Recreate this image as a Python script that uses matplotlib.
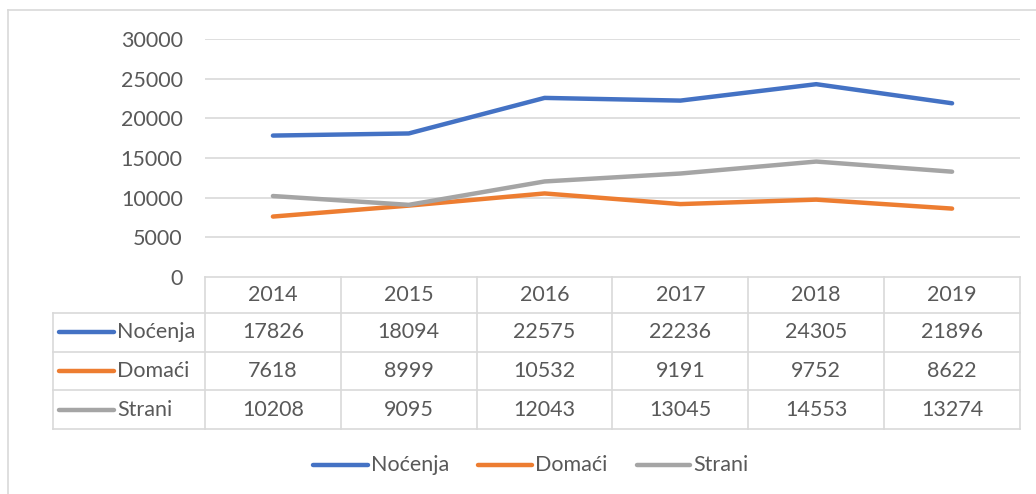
import matplotlib
matplotlib.use("Agg")
import matplotlib.pyplot as plt
from matplotlib.lines import Line2D

years = ["2014", "2015", "2016", "2017", "2018", "2019"]
series_names = ["Noćenja", "Domaći", "Strani"]
nocenja = [17826, 18094, 22575, 22236, 24305, 21896]
domaci = [7618, 8999, 10532, 9191, 9752, 8622]
strani = [10208, 9095, 12043, 13045, 14553, 13274]
yticks = [0, 5000, 10000, 15000, 20000, 25000, 30000]

series = [nocenja, domaci, strani]
colors = ["#4472C4", "#ED7D31", "#A5A5A5"]
TXT = "#595959"
GRID = "#D9D9D9"
FONT = "Lato"
FS = 15.5

W, H = 1036, 494
fig = plt.figure(figsize=(W / 100, H / 100), dpi=100)

def fx(px):
    return px / W

def fy(py):
    return 1 - py / H

# chart border (top and left visible)
fig.add_artist(Line2D([fx(8), fx(8)], [fy(10), 0], color=GRID, lw=1.2, transform=fig.transFigure))
fig.add_artist(Line2D([fx(8), 1], [fy(10), fy(10)], color=GRID, lw=1.2, transform=fig.transFigure))

# main plot
L, R, T, B = 205, 1020, 39, 277
ax = fig.add_axes([fx(L), fy(B), fx(R - L), (B - T) / H])
x = list(range(len(years)))
for s, c in zip(series, colors):
    ax.plot(x, s, color=c, lw=3.2, solid_capstyle="round", solid_joinstyle="round", zorder=3)
ax.set_xlim(-0.5, len(years) - 0.5)
ax.set_ylim(0, 30000)
ax.set_yticks(yticks)
ax.set_yticklabels([str(v) for v in yticks], fontsize=FS, color=TXT, fontfamily=FONT)
ax.tick_params(axis="y", length=0, pad=16)
ax.set_xticks([])
for v in yticks[1:]:
    ax.axhline(v, color=GRID, lw=1.2, zorder=1)
for sp in ax.spines.values():
    sp.set_visible(False)

# data table
TL, TT, TB = 53, 277, 429
tax = fig.add_axes([fx(TL), fy(TB), fx(R - TL), (TB - TT) / H])
colw = (R - L) / len(years)
lab_w = (L - TL) / colw
tax.set_xlim(-0.5 - lab_w, len(years) - 0.5)
row_edges = [0, 36, 75, 113, 152]
tax.set_ylim(152, 0)
tax.axis("off")
lkw = dict(color=GRID, lw=1.2, clip_on=False)
tax.plot([-0.5, len(years) - 0.5], [0, 0], **lkw)
for ry in row_edges[1:]:
    tax.plot([-0.5 - lab_w, len(years) - 0.5], [ry, ry], **lkw)
tax.plot([-0.5 - lab_w] * 2, [row_edges[1], row_edges[-1]], **lkw)
for i in range(len(years) + 1):
    tax.plot([i - 0.5] * 2, [0, row_edges[-1]], **lkw)
tkw = dict(fontsize=FS, color=TXT, fontfamily=FONT, va="center")
for i, yr in enumerate(years):
    tax.text(i, (row_edges[0] + row_edges[1]) / 2, yr, ha="center", **tkw)
for r, (name, s, c) in enumerate(zip(series_names, series, colors)):
    yc = (row_edges[r + 1] + row_edges[r + 2]) / 2
    for i, v in enumerate(s):
        tax.text(i, yc, str(v), ha="center", **tkw)
    x0 = -0.5 - lab_w + (59 - TL) / colw
    x1 = -0.5 - lab_w + (114 - TL) / colw
    tax.plot([x0, x1], [yc, yc], color=c, lw=3.2, solid_capstyle="round", clip_on=False)
    tax.text(-0.5 - lab_w + (117 - TL) / colw, yc, name, ha="left", **tkw)

# legend at bottom
leg_y = fy(465)
leg_pos = [(313, 368), (478, 532), (637, 690)]
for (a, b), name, c in zip(leg_pos, series_names, colors):
    fig.add_artist(Line2D([fx(a), fx(b)], [leg_y, leg_y], color=c, lw=3.2,
                          solid_capstyle="round", transform=fig.transFigure))
    fig.text(fx(b + 3), leg_y, name, ha="left", va="center", fontsize=FS, color=TXT, fontfamily=FONT)

fig.savefig("out.png", dpi=100)
